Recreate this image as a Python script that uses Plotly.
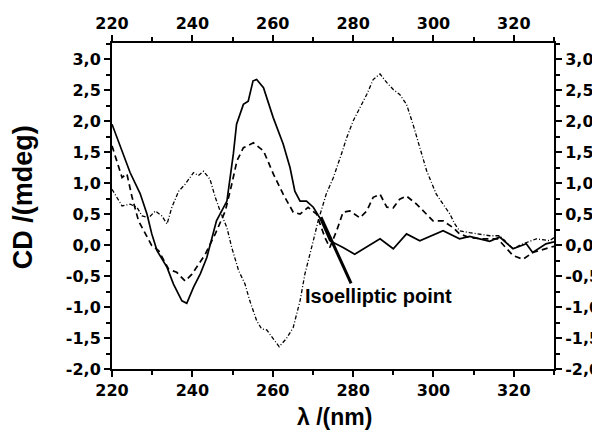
import plotly.graph_objects as go

# Solid curve
sol_x = [220, 222.9, 224.5, 227, 228.7, 229.9, 231.2, 233.7, 235.3, 237.4, 238.6, 240.3, 242, 243.6, 245.2, 246,
         248.6, 250.2, 251, 252.7, 253.9, 255.1, 256, 257.7, 260.1, 262.6, 264.3, 265.5, 266.8, 268.4, 270.1, 271.7,
         274.2, 275.9, 277.5, 280.4, 283.3, 286.7, 290, 293.3, 296.6, 299.5, 302.4, 306.5, 309, 311.5, 314, 316.5,
         319.8, 323.1, 324.7, 328, 330]
sol_y = [1.95, 1.44, 1.17, 0.83, 0.5, 0.18, -0.09, -0.36, -0.63, -0.9, -0.94, -0.68, -0.46, -0.2, 0.18, 0.39,
         0.71, 1.47, 1.95, 2.27, 2.32, 2.65, 2.67, 2.54, 2.06, 1.63, 1.25, 0.87, 0.71, 0.71, 0.61, 0.44,
         0.07, 0.02, -0.04, -0.15, -0.04, 0.1, -0.06, 0.18, 0.07, 0.15, 0.23, 0.1, 0.14, 0.1, 0.06, 0.13,
         -0.06, 0.02, -0.12, 0.02, 0.05]

# Dashed curve
das_x = [220, 222.5, 223.7, 225, 226.6, 228.3, 229.9, 231.6, 234.1, 236.1, 238.2, 239.9, 241.5, 243.2, 245.7,
         248.2, 249.8, 251.1, 252.7, 255.2, 257.7, 260.2, 262.6, 265.1, 266.8, 268.8, 270.9, 273, 274.2, 275.9,
         277.5, 279.2, 281.7, 283.4, 285, 286.7, 288.4, 290, 291.6, 293.3, 295.8, 298.3, 299.9, 302.4, 304.9,
         306.5, 309, 312, 316, 319.8, 322.3, 324.7, 328, 330]
das_y = [1.6, 1.09, 1.15, 0.77, 0.39, 0.18, -0.01, -0.09, -0.39, -0.44, -0.58, -0.47, -0.31, -0.15, 0.18,
         0.55, 0.98, 1.36, 1.57, 1.65, 1.52, 1.14, 0.82, 0.53, 0.5, 0.61, 0.5, 0.12, -0.04, 0.23,
         0.53, 0.55, 0.44, 0.55, 0.77, 0.82, 0.61, 0.6, 0.74, 0.79, 0.66, 0.5, 0.39, 0.39, 0.28,
         0.18, 0.12, 0.1, 0.1, -0.17, -0.23, -0.12, -0.06, -0.02]

# Dash-dot curve
dd_x = [220, 221.2, 222.5, 224.5, 226.2, 227.5, 229.1, 230.8, 232.4, 233.7, 234.9, 236.6, 238.2, 240.3, 241.5,
        242.8, 244.4, 245.7, 246.9, 248.6, 249.8, 251.5, 253.1, 254.3, 256, 257.2, 258.5, 260.1, 261.6, 263.4,
        265.1, 266.8, 268, 270.1, 271.3, 273.3, 275.1, 277.1, 278.4, 280, 281.7, 283.4, 285, 286.7, 288.4,
        290, 291.6, 293.3, 294.9, 296.6, 298.3, 300.7, 302.4, 304.1, 305.3, 306.5, 309, 314, 316.5, 319.8,
        322.3, 325.6, 328.9, 330]
dd_y = [0.9, 0.77, 0.63, 0.66, 0.61, 0.47, 0.44, 0.55, 0.47, 0.34, 0.61, 0.87, 0.98, 1.17, 1.12,
        1.19, 1.06, 0.77, 0.55, 0.28, -0.04, -0.41, -0.63, -0.9, -1.22, -1.35, -1.37, -1.51, -1.64, -1.51,
        -1.33, -0.9, -0.47, 0.07, 0.39, 0.82, 1.09, 1.47, 1.73, 2.0, 2.22, 2.43, 2.67, 2.76, 2.62,
        2.51, 2.43, 2.27, 1.95, 1.57, 1.2, 0.82, 0.66, 0.5, 0.34, 0.23, 0.2, 0.15, 0.15, -0.06,
        0.02, 0.1, 0.07, 0.12]

x_range = [220, 330]
y_range = [-2.0, 3.26]
x_ticks = [220, 240, 260, 280, 300, 320]
y_ticks = [-2.0, -1.5, -1.0, -0.5, 0.0, 0.5, 1.0, 1.5, 2.0, 2.5, 3.0]
y_ticklabels = [f"{v:.1f}".replace(".", ",") for v in y_ticks]

x_title = "λ /(nm)"
y_title = "CD /(mdeg)"
label_text = "Isoelliptic point"
label_pos = (286.2, -0.83)
pointer_from = (279.5, -0.62)
pointer_to = (272.0, 0.45)

ARIAL = "Liberation Sans, Arial, sans-serif"
WIDE = "DejaVu Sans, Liberation Sans, sans-serif"

fig = go.Figure()
fig.add_trace(go.Scatter(x=sol_x, y=sol_y, mode="lines", line=dict(color="black", width=1.7)))
fig.add_trace(go.Scatter(x=das_x, y=das_y, mode="lines", line=dict(color="black", width=1.7, dash="6px,4px")))
fig.add_trace(go.Scatter(x=dd_x, y=dd_y, mode="lines",
                         line=dict(color="black", width=1.3, dash="4px,2px,1px,2px")))
# invisible trace for top/right axes
fig.add_trace(go.Scatter(x=x_range, y=y_range, xaxis="x2", yaxis="y2", mode="markers",
                         marker=dict(opacity=0), hoverinfo="skip"))

tickfont = dict(family=WIDE, size=16, color="black", weight="bold")
common = dict(showgrid=False, zeroline=False, showline=True, linecolor="black", linewidth=2,
              ticks="outside", ticklen=6, tickwidth=2, tickcolor="black", tickfont=tickfont,
              automargin=False)
xminor = dict(dtick=10, tick0=220, ticks="outside", ticklen=4, tickwidth=1.5, tickcolor="black")
yminor = dict(dtick=0.25, tick0=0, ticks="outside", ticklen=4, tickwidth=1.5, tickcolor="black")

# page body has an 8px margin, so the figure is sized to fit the 600x438 window
fig.update_layout(
    width=592, height=430,
    margin=dict(l=104, r=46, t=35, b=69),
    paper_bgcolor="white", plot_bgcolor="white",
    showlegend=False,
    xaxis=dict(range=x_range, tickvals=x_ticks, minor=xminor, **common),
    yaxis=dict(range=y_range, tickvals=y_ticks, ticktext=y_ticklabels, minor=yminor, **common),
    xaxis2=dict(range=x_range, tickvals=x_ticks, overlaying="x", side="top", anchor="y2",
                minor=xminor, **common),
    yaxis2=dict(range=y_range, tickvals=y_ticks, ticktext=y_ticklabels, overlaying="y", side="right",
                anchor="x2", minor=yminor, **common),
)

# axis titles
fig.add_annotation(text=x_title, xref="paper", yref="paper", x=0.504, y=-0.147, showarrow=False,
                   xanchor="center", yanchor="middle",
                   font=dict(family=ARIAL, size=23, color="black", weight="bold"))
fig.add_annotation(text=y_title, xref="paper", yref="paper", x=-0.201, y=0.527, showarrow=False,
                   xanchor="center", yanchor="middle", textangle=-90,
                   font=dict(family=ARIAL, size=27, color="black", weight="bold"))

fig.add_shape(type="line", xref="x", yref="y", x0=pointer_from[0], y0=pointer_from[1],
              x1=pointer_to[0], y1=pointer_to[1], line=dict(color="black", width=3))
fig.add_annotation(x=label_pos[0], y=label_pos[1], xref="x", yref="y", text=label_text, showarrow=False,
                   xanchor="center", yanchor="middle",
                   font=dict(family=ARIAL, size=20, color="black", weight="bold"))

fig.write_html("out.html")
